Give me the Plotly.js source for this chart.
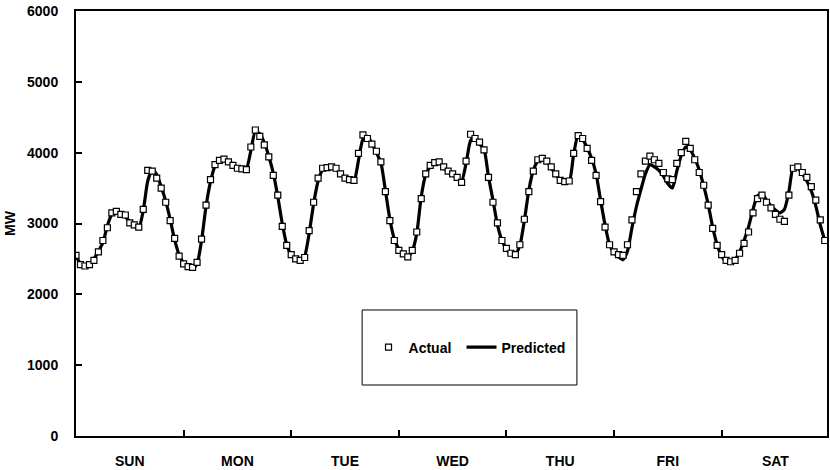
<!DOCTYPE html>
<html><head><meta charset="utf-8">
<script src="https://cdn.plot.ly/plotly-3.0.1.min.js"></script>
<style>html,body{margin:0;padding:0;background:#fff}</style>
</head><body><div id="chart" style="width:830px;height:470px"></div>
<script>
// Day labels and hour positions (one week, hourly)
const days = ['SUN','MON','TUE','WED','THU','FRI','SAT'];
const hoursPerDay = 24;
const hours = Array.from({length: 168}, (_, i) => i);
const dayCenters = days.map((d, i) => i * hoursPerDay + hoursPerDay / 2);
const dayBounds = [24, 48, 72, 96, 120, 144];
const yTicks = [0, 1000, 2000, 3000, 4000, 5000, 6000];

// Actual load (MW)
const actualSun = [2550,2420,2400,2420,2480,2600,2760,2940,3150,3170,3130,3120,3010,2980,2950,3200,3750,3740,3640,3500,3300,3040,2790,2540];
const actualMon = [2430,2390,2380,2450,2780,3260,3620,3830,3890,3910,3870,3820,3780,3770,3760,4080,4320,4230,4110,3940,3680,3400,2960,2690];
const actualTue = [2560,2500,2480,2520,2900,3300,3640,3780,3790,3800,3780,3700,3640,3620,3610,3990,4250,4200,4120,4020,3870,3450,3040,2760];
const actualWed = [2620,2570,2530,2620,2880,3350,3700,3820,3860,3870,3800,3740,3700,3650,3580,3880,4260,4200,4150,4040,3650,3300,3010,2760];
const actualThu = [2650,2580,2560,2700,3060,3450,3740,3900,3920,3880,3800,3700,3610,3590,3600,3990,4240,4200,4060,3890,3680,3310,2950,2700];
const actualFri = [2600,2560,2550,2700,3050,3450,3700,3880,3950,3900,3850,3720,3630,3620,3850,4000,4160,4060,3900,3720,3540,3260,2930,2690];
const actualSat = [2560,2480,2460,2480,2580,2720,2880,3150,3350,3400,3300,3220,3130,3060,3030,3400,3780,3800,3720,3650,3520,3330,3050,2760];

// Predicted load (MW)
const predSun = [2540,2430,2390,2410,2500,2610,2730,2970,3130,3180,3140,3090,3030,2960,2940,3180,3600,3760,3690,3520,3320,3060,2770,2560];
const predMon = [2440,2380,2360,2430,2760,3240,3590,3810,3880,3900,3880,3840,3790,3760,3770,4030,4300,4270,4140,3950,3710,3380,3000,2700];
const predTue = [2560,2490,2470,2540,2860,3280,3600,3760,3800,3810,3770,3690,3650,3610,3600,3890,4190,4230,4130,4000,3860,3470,3060,2780];
const predWed = [2640,2570,2530,2610,2860,3380,3690,3800,3860,3860,3790,3730,3700,3640,3600,3850,4170,4230,4120,4050,3660,3330,2980,2760];
const predThu = [2640,2570,2570,2690,3040,3470,3750,3880,3910,3880,3790,3690,3620,3590,3590,3980,4250,4190,4070,3920,3700,3330,2980,2700];
const predFri = [2590,2530,2490,2610,2940,3240,3480,3700,3830,3800,3750,3670,3560,3500,3740,3960,4080,4040,3920,3760,3530,3270,2950,2700];
const predSat = [2540,2470,2450,2490,2600,2760,2950,3200,3390,3420,3330,3250,3190,3150,3200,3450,3800,3790,3700,3600,3460,3250,2980,2760];

const actual = [].concat(actualSun, actualMon, actualTue, actualWed, actualThu, actualFri, actualSat);
const predicted = [].concat(predSun, predMon, predTue, predWed, predThu, predFri, predSat);

const FONT = {family: '"Liberation Sans", Arial, sans-serif', size: 14, color: '#000', weight: 'bold'};
const xRange = [0, 167.5];

const traces = [
  {x: hours, y: actual, name: 'Actual', type: 'scatter', mode: 'markers', xaxis: 'x2', yaxis: 'y',
   legendwidth: 48,
   marker: {symbol: 'square', size: 6, color: '#fff', line: {color: '#000', width: 1.2}}},
  {x: hours, y: predicted, name: 'Predicted', type: 'scatter', mode: 'lines', xaxis: 'x', yaxis: 'y',
   line: {color: '#000', width: 3.2, shape: 'spline', smoothing: 0.6}}
];

// legend box (paper coordinates)
const box = {x0: 0.381, x1: 0.667, y0: 0.12, y1: 0.2965};

const layout = {
  width: 830, height: 470,
  margin: {l: 76, r: 3, t: 11, b: 34},
  paper_bgcolor: '#fff', plot_bgcolor: '#fff',
  font: FONT,
  showlegend: true,
  legend: {orientation: 'h', x: (box.x0 + box.x1) / 2, y: (box.y0 + box.y1) / 2,
           xanchor: 'center', yanchor: 'middle', bgcolor: 'rgba(0,0,0,0)', borderwidth: 0,
           font: FONT, traceorder: 'normal'},
  xaxis: {range: xRange, tickmode: 'array', tickvals: dayCenters, ticktext: days,
          ticks: '', showgrid: false, zeroline: false, showline: true, linecolor: '#000',
          linewidth: 2, mirror: true, ticklabelstandoff: 11, tickfont: FONT, fixedrange: true},
  xaxis2: {range: xRange, overlaying: 'x', tickmode: 'array', tickvals: dayBounds,
           ticks: 'inside', ticklen: 6, tickwidth: 2, tickcolor: '#000', showticklabels: false,
           showgrid: false, zeroline: false, showline: false, anchor: 'y', side: 'bottom'},
  yaxis: {range: [0, 6000], tickmode: 'array', tickvals: yTicks, ticks: 'inside', ticklen: 6,
          tickwidth: 2, tickcolor: '#000', showgrid: false, zeroline: false, showline: true,
          linecolor: '#000', linewidth: 2, mirror: true, ticklabelstandoff: 13, tickfont: FONT,
          title: {text: 'MW', font: FONT, standoff: 8}},
  shapes: [{type: 'rect', xref: 'paper', yref: 'paper', x0: box.x0, x1: box.x1, y0: box.y0, y1: box.y1,
            line: {color: '#000', width: 1}, fillcolor: 'rgba(0,0,0,0)'}]
};

Plotly.newPlot('chart', traces, layout, {staticPlot: true, displayModeBar: false});
</script></body></html>
